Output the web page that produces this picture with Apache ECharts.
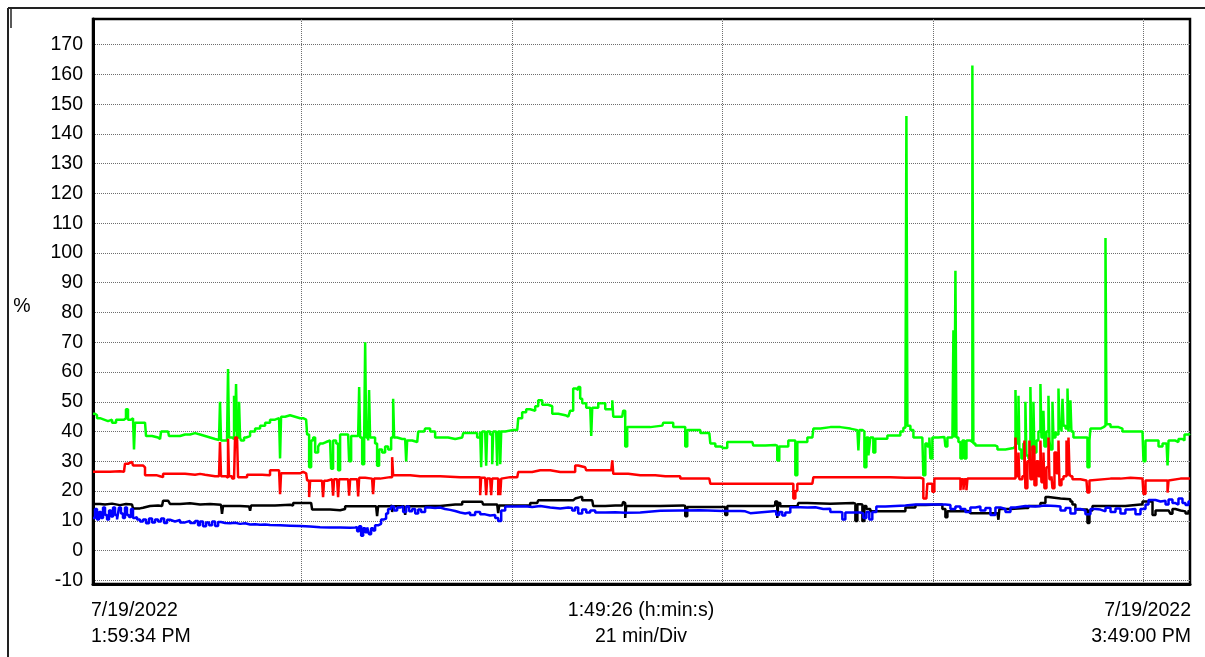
<!DOCTYPE html>
<html>
<head>
<meta charset="utf-8">
<script src="https://cdn.jsdelivr.net/npm/echarts@6/dist/echarts.min.js"></script>
<style>
  html, body { margin: 0; padding: 0; background: #fff; }
  #chart { width: 1205px; height: 657px; }
</style>
</head>
<body>
<div id="chart"></div>
<script>
// Trend log 7/19/2022, 1:59:34 PM to 3:49:00 PM.
// Time is elapsed minutes from the start of the log; values are percent.
const spanMinutes = 109.43;             // 1:49:26
const divisionMarks = [20.8, 41.8, 62.8, 83.8, 104.8];   // 21 min/Div
const percentTicks = [-10, 0, 10, 20, 30, 40, 50, 60, 70, 80, 90, 100, 110, 120, 130, 140, 150, 160, 170];

const startLabel = ['7/19/2022', '1:59:34 PM'];
const spanLabel = ['1:49:26 (h:min:s)', '21 min/Div'];
const endLabel = ['7/19/2022', '3:49:00 PM'];
const unitLabel = '%';

const greenTrace = [
  [0,46],[0.2,45.5],[0.4,44.5],[0.7,44],[1.1,43.5],[1.5,44],[1.9,43],[2.3,44],[2.69,44],[3.09,44.5],[3.29,47.5],[3.49,44],
  [3.79,44.5],[3.99,44],[4.09,34],[4.19,43],[4.69,43],[5.19,42.5],[5.29,38.5],[5.89,38],[6.49,37.5],[6.69,38],[6.79,40],
  [7.29,40],[7.49,40],[7.58,38.5],[8.18,38.5],[8.68,39],[9.18,39],[9.68,39.5],[10.18,39],[10.68,38.5],[11.18,38],[11.68,37.5],
  [12.18,37.2],[12.57,37],[12.67,50],[12.77,37],[13.17,37],[13.37,37.5],[13.47,61],[13.57,38],[13.87,37.5],[14.07,52],[14.17,40],
  [14.27,56],[14.37,38],[14.57,50],[14.67,38],[14.77,37],[15.07,38],[15.27,38.5],[15.67,40],[16.17,41],[16.67,42],[17.17,43],
  [17.66,44],[18.16,44.5],[18.56,45],[18.66,31],[18.76,45],[19.16,45.5],[19.66,45],[20.16,44.5],[20.66,44.5],[20.96,44],[21.26,44],
  [21.36,39],[21.56,28],[21.76,37],[21.96,38],[22.16,33],[22.46,35],[22.65,36],[22.95,36.5],[23.25,37],[23.65,37],[23.75,27.5],
  [23.95,37],[24.25,36],[24.45,27],[24.65,39],[25.15,39],[25.45,39],[25.55,30],[25.75,38.5],[26.15,38.5],[26.45,38],[26.55,55],
  [26.65,38],[26.85,29],[27.05,38],[27.15,70],[27.25,38],[27.45,37],[27.54,54],[27.64,38],[27.84,38],[28.14,36],[28.34,28.5],
  [28.54,34],[28.84,33],[29.14,35],[29.44,34],[29.74,38],[29.84,38],[29.94,51],[30.04,38],[30.34,37.5],[30.84,37.5],[31.14,37.5],
  [31.24,30],[31.34,37],[31.84,36.5],[32.34,36.5],[32.44,40],[33.03,40],[33.13,41],[33.43,41],[33.63,40],[34.13,38],[34.63,38],
  [35.13,38],[35.43,37.5],[36.13,38],[36.83,38],[36.93,39.5],[37.62,39.5],[38.12,39.5],[38.32,38],[38.62,40],[38.72,28],[38.82,40],
  [39.12,40],[39.22,28.5],[39.32,40],[39.62,39],[39.82,29],[39.92,40],[40.22,40],[40.32,28.5],[40.42,40],[40.62,29],[40.72,40],
  [41.12,40.5],[41.82,40.5],[42.32,40.5],[42.42,44.5],[42.81,46.5],[43.21,47.5],[43.61,47],[44.11,48.5],[44.41,50.5],[44.81,49],
  [45.41,48.5],[45.81,46],[46.41,45.5],[47.11,45],[47.41,45.5],[47.6,47],[47.9,54.5],[48.2,54],[48.4,55],[48.6,51],[48.8,49.5],
  [49.2,48],[49.6,48],[49.7,38.5],[49.8,48],[50.4,49.5],[51.1,47.5],[51.6,47.5],[51.8,50.5],[51.9,45],[52.4,45],[52.79,45],
  [52.89,47],[53.09,35],[53.29,41.5],[54.09,41.5],[54.59,41.5],[55.59,42],[56.79,42],[56.89,43],[57.58,43],[57.88,41.5],[58.88,41.5],
  [59.08,35],[59.28,40.5],[60.08,40.5],[60.58,39.5],[61.48,39.3],[61.58,36],[62.08,35],[62.57,34.5],[62.87,34.5],[63.27,36.5],
  [64.07,36.5],[65.07,36.5],[65.77,36.5],[65.87,35.3],[67.07,35.5],[68.06,35.3],[68.26,30.3],[68.46,35],[69.06,35],[69.36,37],
  [69.86,37],[70.06,25.3],[70.26,36.5],[70.86,36.5],[71.26,38],[71.76,38],[71.86,41],[72.55,41.5],[73.55,41.5],[74.55,41],
  [75.55,40.5],[76.25,40.5],[76.35,33.7],[76.45,40.5],[76.75,40],[76.95,28],[77.15,38],[77.35,32],[77.54,38],[77.84,33],[78.04,37.6],
  [78.54,37.6],[79.24,38.7],[80.04,38.7],[80.54,40],[80.84,41.3],[81.04,41.5],[81.14,146],[81.24,42],[81.54,40.5],[81.84,38],
  [82.34,38],[82.73,38],[82.83,25.3],[83.03,36],[83.23,35],[83.43,38],[83.53,31],[83.73,38],[84.33,38.2],[84.93,38],[85.03,35],
  [85.23,38],[85.73,38],[85.83,74],[85.93,38],[86.03,94],[86.13,38],[86.33,36.5],[86.53,31],[86.73,37],[86.93,31],[87.13,37],
  [87.52,36.5],[87.62,36.5],[87.72,163],[87.82,36],[88.02,35.3],[89.02,35.3],[90.02,35],[90.22,34],[91.02,34.5],[91.82,34.5],
  [91.92,35],[92.02,54],[92.12,36],[92.32,52],[92.41,34],[92.61,31],[92.81,36],[93.01,50],[93.11,32],[93.31,31],[93.51,55],
  [93.61,34],[93.81,50],[93.91,33],[94.11,37],[94.31,40],[94.51,56],[94.61,38],[94.81,47],[94.91,35],[95.11,40],[95.31,52],
  [95.41,37],[95.51,34],[95.71,50],[95.81,38],[96.01,40],[96.11,39],[96.31,54.5],[96.41,41],[96.61,40],[96.71,51],[96.81,42],
  [97.01,41],[97.21,54.5],[97.31,40],[97.5,50.5],[97.6,40],[97.8,38],[98.5,38],[99.0,38],[99.2,28],[99.4,37],[99.5,41],
  [100.0,41],[100.5,41.5],[100.8,42],[101.0,105],[101.1,42.5],[101.5,41.5],[102.0,41.5],[102.3,41],[102.69,40],[103.49,40],
  [104.29,40],[104.69,40],[104.79,30],[104.99,37],[105.49,37],[105.99,37],[106.29,35],[106.69,36],[107.09,36],[107.19,28.6],
  [107.29,37],[107.68,37],[107.98,36.5],[108.28,37.5],[108.68,37],[108.88,39],[109.28,39.3],[109.43,39.5]
];

const redTrace = [
  [0,26.5],[0.7,26.5],[1.7,26.7],[2.69,26.5],[3.09,26.5],[3.19,29.2],[3.49,29.8],[3.89,29.8],[3.99,28.6],[4.69,28.6],[4.99,28],
  [5.19,25.3],[5.89,25.3],[6.39,25],[6.69,24.7],[6.99,25.8],[8.18,25.8],[9.18,25.5],[10.18,25.8],[10.68,25.5],[11.18,25],[12.18,25],
  [12.57,25],[12.67,36.5],[12.77,25],[13.27,24.5],[13.47,37.6],[13.57,25],[13.87,24.2],[14.07,24.5],[14.17,38],[14.37,38],
  [14.47,24.7],[14.67,24.7],[15.37,25.5],[16.17,25.5],[16.87,25.3],[17.66,27],[18.36,27],[18.56,27],[18.66,19],[18.76,26],
  [19.66,26],[20.66,26.5],[20.96,26],[21.26,26],[21.36,23.6],[21.56,18],[21.66,23.5],[22.46,23.5],[22.85,23.5],[22.95,18],
  [23.05,23.5],[23.35,24],[23.85,24],[23.95,18.5],[24.05,24],[24.35,24],[24.45,18],[24.55,24],[25.15,24],[25.45,24],[25.55,18.5],
  [25.65,24],[26.15,24],[26.35,24],[26.45,18.2],[26.55,24.5],[27.15,24.2],[27.84,24.2],[27.94,19],[28.04,24.2],[28.64,24.7],
  [29.64,24.7],[29.84,31.4],[29.94,25.3],[30.64,25.3],[31.14,25.3],[31.64,25],[32.63,25],[33.83,25],[34.63,24.7],[36.63,24.7],
  [38.42,24.7],[38.62,18.6],[38.72,24.5],[39.12,24.2],[39.22,18.6],[39.32,24.2],[39.62,24.2],[39.72,18.6],[39.82,24.2],[40.22,24.2],
  [40.42,18.6],[40.52,24.2],[40.62,18.6],[40.72,24.2],[40.82,24.7],[41.62,24.7],[42.32,24.7],[42.42,26.4],[43.11,26.4],[43.81,27],
  [44.61,27],[45.41,27],[45.61,26.4],[46.61,26.4],[47.6,26.4],[48.1,28.6],[48.4,28],[49.1,28],[49.2,27],[50.6,27],[51.7,27],
  [51.8,30.3],[51.9,25.8],[52.59,25.8],[53.39,25.3],[54.59,25.3],[56.09,25],[57.09,25],[57.88,25],[58.58,24.2],[60.58,24.2],
  [61.48,24.2],[61.58,22.5],[63.57,22.5],[65.57,22.5],[67.56,22.5],[69.26,22.5],[69.66,22.5],[69.86,17.5],[70.06,20],[70.26,22.5],
  [71.06,22.5],[71.76,22.5],[71.86,24.7],[73.55,24.7],[75.55,24.7],[77.84,24.7],[79.54,24.5],[81.04,24.5],[82.04,24.5],[82.53,24.2],
  [82.83,17.5],[83.13,17.5],[83.23,22.5],[83.53,22.5],[83.73,19.8],[83.93,24.2],[85.03,24.2],[86.33,24.2],[86.53,20.3],[86.63,24],
  [86.83,20.5],[86.93,24],[87.13,20.3],[87.23,24.2],[88.52,24.2],[90.52,24.2],[91.82,24.2],[91.92,24.2],[92.02,38],[92.12,25],
  [92.32,33],[92.41,24],[92.71,25],[92.91,37],[93.01,21],[93.21,30],[93.41,37],[93.51,24],[93.71,35],[93.91,22],[94.11,30],
  [94.31,25],[94.51,37],[94.61,23],[94.81,33],[94.91,21],[95.11,28],[95.31,38],[95.41,24],[95.61,25],[95.71,21],[95.91,33],
  [96.11,26],[96.31,37],[96.41,22],[96.61,24],[96.81,25],[97.11,37],[97.21,25],[97.31,38],[97.41,26],[97.5,25],[97.7,24],
  [98.5,23.6],[99.1,23.6],[99.2,19.5],[99.4,23.6],[99.5,24.2],[101.5,24.2],[102.49,24.5],[103.49,24.2],[104.69,24.2],[104.79,19],
  [104.99,23.6],[105.99,23.6],[106.99,23.6],[107.19,19.5],[107.29,23.6],[107.48,24.2],[108.48,24.2],[109.43,24]
];

const blackTrace = [
  [0,15.7],[0.7,15.5],[1.2,15.8],[1.9,15.3],[2.69,15.7],[3.29,15.5],[3.89,15.7],[3.99,14.2],[4.69,14.4],[4.99,15],[5.69,15.2],
  [6.49,15],[6.89,15.2],[6.99,16.8],[7.49,16.6],[7.68,15.7],[8.68,15.9],[9.68,15.5],[10.68,15.7],[11.68,15.4],[12.77,15.5],
  [12.87,12.4],[12.97,15],[14.17,15],[14.67,14.8],[15.57,15],[15.67,13.4],[15.77,15.2],[16.67,15.2],[18.16,15.4],[19.66,15.2],
  [19.96,16],[21.16,16],[21.76,15.8],[21.86,13.8],[22.65,13.8],[23.65,13.6],[24.65,14],[25.15,14.9],[26.15,14.9],[27.15,14.9],
  [28.24,14.9],[28.34,11.6],[28.44,14.9],[29.64,15.1],[29.84,13],[29.94,14.9],[31.04,14.9],[31.14,12],[31.24,14.9],[32.63,15],
  [33.83,15],[34.63,15.5],[36.13,15.5],[36.83,16.4],[38.12,16.4],[38.82,16.2],[38.92,15.5],[40.32,15.5],[40.42,12.6],[40.52,15.2],
  [42.12,15.2],[43.41,15.2],[43.61,16],[44.31,16],[44.41,16.9],[46.11,16.9],[47.41,16.9],[47.9,17.5],[48.1,18],[48.6,18],
  [48.8,16.9],[49.8,16.9],[49.9,15],[51.1,15.2],[52.1,15.2],[52.79,15.2],[52.89,16.4],[52.99,16],[53.09,11],[53.19,15],[54.59,15],
  [56.59,15.2],[58.88,15],[59.08,11.6],[59.28,14.7],[61.08,14.7],[62.87,14.7],[63.07,12],[63.27,15],[65.57,15],[67.86,15.2],
  [68.06,16.5],[68.26,11],[68.36,16],[68.56,14.9],[70.26,15],[70.36,16],[71.26,15.8],[73.55,16],[75.85,15.8],[76.05,10],
  [76.25,15.6],[76.55,15.5],[76.75,10],[76.95,15],[77.15,14],[77.54,13.2],[79.04,13.2],[80.84,13.2],[81.04,14.5],[82.04,15.3],
  [83.03,15.5],[84.33,15.5],[84.73,14],[85.03,11.2],[85.23,13.2],[86.53,13.3],[87.33,13.2],[87.52,12.6],[89.02,12.6],[90.22,12.6],
  [90.32,10.4],[90.42,14],[91.52,14.3],[93.01,14.3],[93.31,15],[94.31,15],[94.51,16],[95.01,18],[95.31,17.5],[96.51,17.3],
  [97.5,16.5],[97.7,15.5],[98.0,13.8],[99.0,13.8],[99.2,9.3],[99.4,13.5],[99.7,15],[101.0,15],[102.0,15],[102.99,15.5],
  [104.49,15.5],[104.69,16.5],[105.29,16.5],[105.69,12],[105.99,13.5],[106.99,13.5],[107.29,13.5],[107.48,12.4],[107.68,14],
  [107.98,13.5],[108.48,13.2],[108.98,12.5],[109.28,13.5],[109.43,13]
];

const blueTrace = [
  [0,11],[0.2,14],[0.4,10.5],[0.6,13],[0.8,11],[1.0,14.5],[1.2,12],[1.4,10.5],[1.6,13.5],[1.8,11.5],[2.0,14.5],[2.2,12],
  [2.4,10.5],[2.59,14.5],[2.79,12.5],[2.99,11],[3.19,14.5],[3.39,12],[3.59,11.3],[3.79,14],[3.99,11],[4.19,11.3],[4.39,10.5],
  [4.69,9.8],[4.99,10.5],[5.29,9.2],[5.59,10.8],[5.89,9.5],[6.19,10.5],[6.49,9.8],[6.79,10.8],[7.09,9.3],[7.39,10.4],[7.68,9.8],
  [8.18,10.3],[8.68,9.5],[9.18,10],[9.68,9.3],[10.18,10],[10.48,8.5],[10.68,9.8],[10.98,8.2],[11.28,9.5],[11.58,8.5],[11.88,9.8],
  [12.18,8.3],[12.48,9.6],[12.77,9.3],[13.17,9.2],[13.67,9.4],[14.17,9],[14.67,9.2],[15.17,8.8],[15.67,8.9],[16.17,8.7],
  [16.67,8.8],[17.17,8.6],[17.66,8.5],[18.66,8.4],[19.66,8.3],[20.66,8.1],[21.66,7.9],[22.65,7.8],[23.65,7.8],[24.65,7.7],
  [25.65,7.8],[26.15,7.9],[26.35,6.5],[26.55,8.2],[26.75,5],[26.95,7.5],[27.15,6.2],[27.35,7.8],[27.54,5.5],[27.74,7.5],
  [27.94,6.8],[28.14,8.5],[28.44,9],[28.74,10.5],[29.04,10.8],[29.24,12.5],[29.44,14],[29.74,14.8],[30.04,13.5],[30.34,14.5],
  [30.64,14.9],[30.94,13],[31.24,14.8],[31.54,13.2],[31.84,14],[32.14,12.5],[32.44,13.8],[32.73,13],[33.13,14.5],[33.63,14.3],
  [34.13,14.5],[34.63,14],[35.13,13.7],[35.63,13.3],[36.13,12.8],[36.63,12.5],[37.13,12.8],[37.62,12],[38.12,13],[38.62,12.2],
  [39.12,11.8],[39.62,12],[40.12,11],[40.42,10],[40.72,13.5],[41.12,14.8],[42.12,14.9],[43.11,14.7],[43.81,15],[44.61,14.5],
  [45.61,14.2],[46.61,14.5],[47.41,14.3],[47.8,13.5],[48.1,14.5],[48.4,12.5],[48.8,13.8],[49.2,12.8],[49.6,13.5],[50.1,12.8],
  [51.1,12.9],[52.1,12.7],[53.09,12.8],[54.59,13.4],[56.59,13.5],[58.58,13.6],[60.58,13.3],[62.87,13.3],[64.57,13.2],[65.07,12.6],
  [65.57,13.2],[67.86,13.2],[68.16,12],[68.46,13],[68.76,11.8],[69.06,12.8],[69.56,14.6],[70.56,14.5],[71.26,14.6],[72.06,14],
  [72.85,14.1],[73.55,13],[74.55,12.8],[74.75,10.5],[75.05,12.8],[76.05,12.8],[76.55,12.5],[76.85,11],[77.15,13],[77.44,10.5],
  [77.74,13],[78.14,14.8],[79.04,15],[80.04,15.2],[81.04,15.5],[82.04,15.5],[83.53,15.5],[85.03,15.3],[85.53,14],[86.03,14.8],
  [86.53,14],[87.03,13],[87.52,14.5],[88.02,14.8],[88.52,13.5],[89.02,14.3],[89.52,12],[90.02,14.5],[90.52,14],[91.02,13],
  [91.52,14.5],[92.02,15],[93.01,14.8],[94.01,15.2],[95.01,15],[96.01,14.8],[96.51,13.5],[97.01,14.3],[97.5,12.5],[98.0,14],
  [98.5,13.5],[99.0,12.2],[99.5,14],[100.0,13.8],[100.5,13.2],[101.0,14.4],[101.5,13],[102.0,14.2],[102.49,12.5],[102.99,13.8],
  [103.49,14],[103.99,12.2],[104.49,14],[104.99,15.5],[105.29,17],[105.99,16.5],[106.49,16.8],[106.99,15.5],[107.29,17.2],
  [107.68,16],[107.98,15.5],[108.28,17.5],[108.68,16],[108.98,15.3],[109.28,16.5],[109.43,16.3]
];

const traces = [
  { name: 'Green', color: '#00ff00', data: greenTrace },
  { name: 'Red', color: '#ff0000', data: redTrace },
  { name: 'Black', color: '#000000', data: blackTrace },
  { name: 'Blue', color: '#0000ff', data: blueTrace }
];

const FONT = '"Liberation Sans", Arial, sans-serif';
const FONT_SIZE = 19.5;
const gridLine = { color: '#6e6e6e', width: 1, type: [1, 1] };

const chart = echarts.init(document.getElementById('chart'), null, { renderer: 'canvas' });

function textEl(x, y, lines, align) {
  return {
    type: 'text',
    x: x, y: y,
    style: {
      text: lines.join('\n'),
      font: FONT_SIZE + 'px ' + FONT,
      fill: '#000',
      align: align,
      verticalAlign: 'top',
      lineHeight: 26
    },
    silent: true
  };
}

chart.setOption({
  animation: false,
  backgroundColor: '#fff',
  grid: {
    left: 93, right: 15, top: 19, bottom: 73,
    show: true,
    borderColor: '#000',
    borderWidth: 2.5,
    backgroundColor: 'transparent'
  },
  xAxis: {
    type: 'value',
    min: 0,
    max: spanMinutes,
    axisLine: { show: true, onZero: false, lineStyle: { color: '#000', width: 3 } },
    axisTick: { show: false, customValues: divisionMarks },
    axisLabel: { show: false, customValues: divisionMarks },
    splitLine: { show: true, lineStyle: gridLine }
  },
  yAxis: {
    type: 'value',
    min: -11.2,
    max: 178.6,
    axisLine: { show: true, lineStyle: { color: '#000', width: 3 } },
    axisTick: { show: false, customValues: percentTicks },
    axisLabel: {
      customValues: percentTicks,
      color: '#000',
      fontFamily: FONT,
      fontSize: FONT_SIZE,
      margin: 10
    },
    splitLine: { show: true, lineStyle: gridLine }
  },
  series: traces.map(t => ({
    name: t.name,
    type: 'line',
    step: 'end',
    data: t.data,
    showSymbol: false,
    symbol: 'none',
    lineStyle: { color: t.color, width: 2.5 },
    itemStyle: { color: t.color },
    clip: true,
    silent: true
  })),
  graphic: [
    // outer frame and marker
    { type: 'line', shape: { x1: 8, y1: 8, x2: 1205, y2: 8 }, style: { stroke: '#222', lineWidth: 2 }, silent: true },
    { type: 'line', shape: { x1: 8, y1: 8, x2: 8, y2: 657 }, style: { stroke: '#222', lineWidth: 2 }, silent: true },
    { type: 'line', shape: { x1: 11, y1: 9, x2: 11, y2: 28 }, style: { stroke: '#222', lineWidth: 1.5 }, silent: true },
    textEl(22, 294, [unitLabel], 'center'),
    textEl(91, 598, startLabel, 'left'),
    textEl(641, 598, spanLabel, 'center'),
    textEl(1191, 598, endLabel, 'right')
  ]
});
</script>
</body>
</html>
